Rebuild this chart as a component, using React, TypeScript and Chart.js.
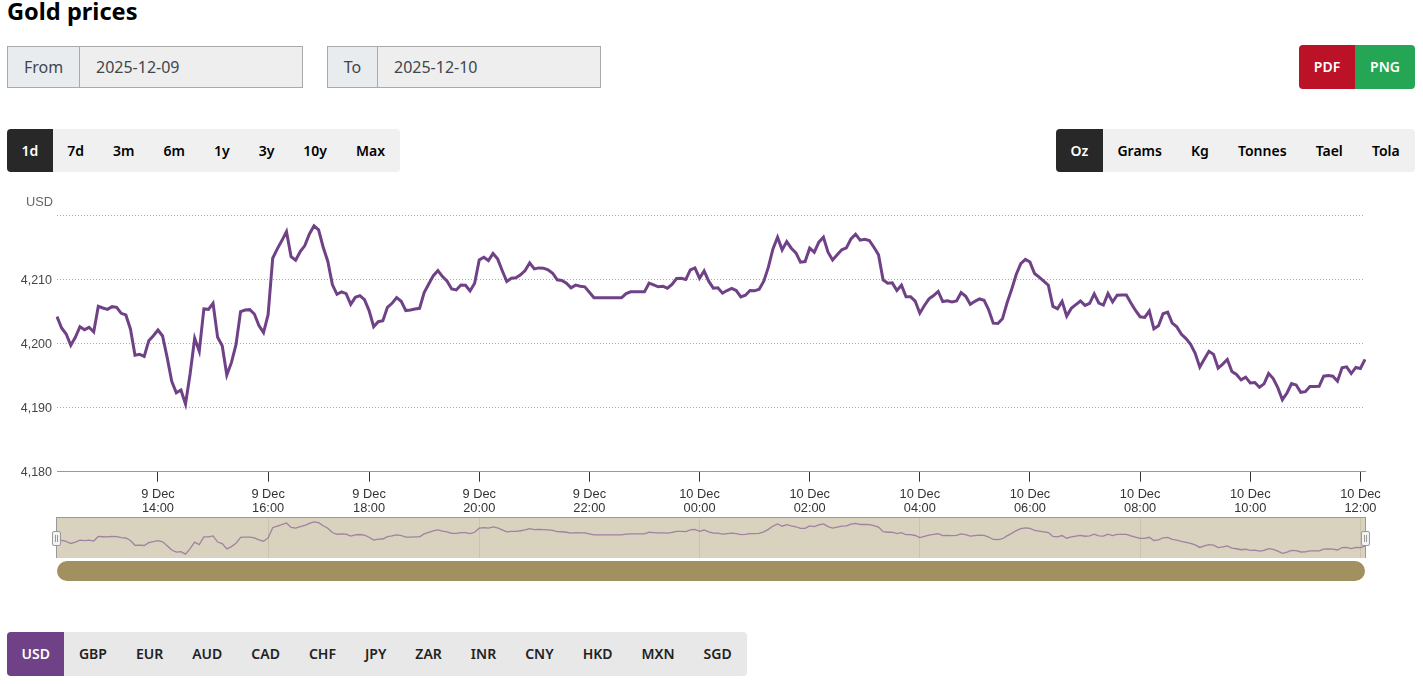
import { useEffect, useRef } from 'react'
import { Chart, registerables } from 'chart.js'

Chart.register(...registerables)

const fromDate = '2025-12-09'
const toDate = '2025-12-10'
const rangeButtons = ['1d', '7d', '3m', '6m', '1y', '3y', '10y', 'Max']
const unitButtons = ['Oz', 'Grams', 'Kg', 'Tonnes', 'Tael', 'Tola']
const currencyButtons = ['USD', 'GBP', 'EUR', 'AUD', 'CAD', 'CHF', 'JPY', 'ZAR', 'INR', 'CNY', 'HKD', 'MXN', 'SGD']
const yTicks = { min: 4180, max: 4220, step: 10 }

// 5 minute prices
const prices = [
  4204.25, 4202.47, 4201.53, 4199.76, 4201.01, 4202.68, 4202.21, 4202.58, 4201.85, 4205.86,
  4205.6, 4205.39, 4205.81, 4205.71, 4204.77, 4204.51, 4202.32, 4198.2, 4198.35, 4198.04,
  4200.49, 4201.27, 4202.16, 4201.22, 4197.88, 4194.13, 4192.35, 4192.77, 4190.58, 4195.27,
  4200.86, 4198.82, 4205.45, 4205.39, 4206.33, 4201.01, 4199.71, 4195.12, 4197.05, 4199.86,
  4205.03, 4205.29, 4205.34, 4204.66, 4202.84, 4201.74, 4204.56, 4213.38, 4214.84, 4216.14,
  4217.55, 4213.64, 4213.06, 4214.42, 4215.36, 4217.18, 4218.44, 4217.81, 4215.1, 4212.91,
  4209.25, 4207.74, 4208.11, 4207.85, 4206.18, 4207.27, 4207.53, 4206.91, 4205.19, 4202.68,
  4203.46, 4203.62, 4205.71, 4206.33, 4207.22, 4206.65, 4205.19, 4205.29, 4205.45, 4205.55,
  4208.0, 4209.36, 4210.66, 4211.44, 4210.51, 4209.78, 4208.58, 4208.42, 4209.2, 4209.15,
  4208.26, 4209.46, 4213.12, 4213.54, 4213.02, 4214.11, 4213.28, 4211.46, 4209.74, 4210.26,
  4210.31, 4210.78, 4211.46, 4212.66, 4211.72, 4211.87, 4211.82, 4211.56, 4211.04, 4210.0,
  4209.9, 4209.48, 4208.75, 4209.17, 4209.01, 4208.91, 4208.07, 4207.19, 4207.19, 4207.19,
  4207.19, 4207.19, 4207.19, 4207.19, 4207.86, 4208.12, 4208.12, 4208.12, 4208.12, 4209.48,
  4209.22, 4208.91, 4209.01, 4208.7, 4209.27, 4210.21, 4210.26, 4210.05, 4211.56, 4211.87,
  4210.26, 4211.41, 4209.79, 4208.7, 4208.75, 4207.92, 4208.33, 4208.65, 4208.33, 4207.34,
  4207.6, 4208.33, 4208.28, 4208.54, 4209.79, 4211.98, 4214.84, 4216.67, 4214.69, 4215.99,
  4214.95, 4214.22, 4212.76, 4212.86, 4214.95, 4214.32, 4215.89, 4216.67, 4214.32, 4213.12,
  4213.91, 4214.69, 4215.0, 4216.41, 4217.14, 4216.2, 4216.35, 4216.15, 4215.1, 4213.91,
  4210.0, 4209.48, 4209.53, 4208.33, 4209.17, 4207.34, 4207.34, 4206.67, 4204.79, 4205.99,
  4207.03, 4207.55, 4208.18, 4206.61, 4206.72, 4206.54, 4206.69, 4208.01, 4207.43, 4206.17,
  4206.64, 4207.01, 4206.8, 4205.33, 4203.23, 4203.18, 4203.91, 4206.38, 4208.48, 4210.84,
  4212.52, 4213.2, 4212.78, 4211.0, 4210.42, 4209.79, 4209.16, 4205.85, 4205.49, 4206.64,
  4204.33, 4205.54, 4206.12, 4206.69, 4206.01, 4206.33, 4207.8, 4206.38, 4206.06, 4207.85,
  4206.54, 4207.59, 4207.64, 4207.64, 4206.38, 4205.22, 4204.23, 4204.12, 4205.12, 4202.34,
  4202.81, 4204.7, 4204.96, 4203.23, 4202.65, 4201.5, 4200.81, 4199.92, 4198.5, 4196.35,
  4197.61, 4198.82, 4198.35, 4196.19, 4196.82, 4197.56, 4195.67, 4195.2, 4194.36, 4194.78,
  4193.88, 4193.94, 4193.2, 4193.73, 4195.35, 4194.57, 4193.15, 4191.26, 4192.31, 4193.78,
  4193.57, 4192.41, 4192.52, 4193.31, 4193.31, 4193.36, 4194.93, 4195.04, 4194.93, 4194.15,
  4196.25, 4196.4, 4195.35, 4196.3, 4196.14, 4197.56,
]

// the feed starts at 12:10 and has two 5 minute slots missing just after 16:00
const firstSlotMinutes = 12 * 60 + 10
const missingSlots = [16 * 60 + 25, 16 * 60 + 30]

function buildTimeLabels(count: number) {
  const labels: string[] = []
  let minutes = firstSlotMinutes
  while (labels.length < count) {
    if (!missingSlots.includes(minutes)) {
      const day = minutes < 24 * 60 ? '9 Dec' : '10 Dec'
      const hh = String(Math.floor(minutes / 60) % 24).padStart(2, '0')
      const mm = String(minutes % 60).padStart(2, '0')
      labels.push(`${day}|${hh}:${mm}`)
    }
    minutes += 5
  }
  return labels
}

const timeLabels = buildTimeLabels(prices.length)

function isHourTick(label: string, everyHours: number) {
  const [hh, mm] = label.split('|')[1].split(':')
  return mm === '00' && Number(hh) % everyHours === 0
}

const uiFont = '"Noto Sans", sans-serif'
const chartFont = '"Liberation Sans", Arial, sans-serif'

function PriceChart() {
  const canvasRef = useRef<HTMLCanvasElement | null>(null)

  useEffect(() => {
    const canvas = canvasRef.current
    if (!canvas) {
      return
    }

    const chart = new Chart(canvas, {
      type: 'line',
      data: {
        labels: timeLabels,
        datasets: [
          {
            data: prices,
            borderColor: '#6f4186',
            borderWidth: 3,
            pointRadius: 0,
            tension: 0,
          },
        ],
      },
      options: {
        responsive: false,
        animation: false,
        layout: { padding: { top: 25.9, right: 58, left: 0, bottom: 0 } },
        plugins: { legend: { display: false }, tooltip: { enabled: false } },
        scales: {
          x: {
            type: 'category',
            afterBuildTicks: (axis: any) => {
              axis.ticks = axis.ticks.filter((tick: any) => isHourTick(timeLabels[tick.value], 2))
            },
            afterFit: (axis: any) => {
              axis.height = 48.3
            },
            border: { color: '#999999', width: 1 },
            grid: {
              drawOnChartArea: false,
              tickLength: 10,
              tickColor: '#333333',
            },
            ticks: {
              autoSkip: false,
              maxRotation: 0,
              padding: 5,
              color: '#333333',
              font: { family: chartFont, size: 12.8, lineHeight: 1.16 },
              callback: (value: any) => timeLabels[value].split('|'),
            },
          },
          y: {
            min: yTicks.min,
            max: yTicks.max,
            afterFit: (axis: any) => {
              axis.width = 57
            },
            border: { display: false, dash: [1, 2] },
            grid: { color: '#aaaaaa', drawTicks: false },
            ticks: {
              stepSize: yTicks.step,
              padding: 5,
              labelOffset: 1,
              color: '#444444',
              font: { family: chartFont, size: 12.5 },
              callback: (value: any) => (value === yTicks.max ? '' : Number(value).toLocaleString('en-US')),
            },
          },
        },
      },
    })

    return () => {
      chart.destroy()
    }
  }, [])

  return (
    <canvas
      ref={canvasRef}
      width={1423}
      height={330}
      style={{ position: 'absolute', left: 0, top: 190, width: 1423, height: 330 }}
    />
  )
}

function NavigatorChart() {
  const canvasRef = useRef<HTMLCanvasElement | null>(null)

  useEffect(() => {
    const canvas = canvasRef.current
    if (!canvas) {
      return
    }

    const chart = new Chart(canvas, {
      type: 'line',
      data: {
        labels: timeLabels,
        datasets: [
          {
            data: prices,
            borderColor: 'rgba(111, 65, 134, 0.55)',
            borderWidth: 1.3,
            pointRadius: 0,
            tension: 0,
          },
        ],
      },
      options: {
        responsive: false,
        animation: false,
        plugins: { legend: { display: false }, tooltip: { enabled: false } },
        scales: {
          x: {
            type: 'category',
            afterBuildTicks: (axis: any) => {
              axis.ticks = axis.ticks.filter((tick: any) => isHourTick(timeLabels[tick.value], 4))
            },
            border: { display: false },
            grid: { color: 'rgba(90, 80, 50, 0.12)', drawTicks: false },
            ticks: { display: false, autoSkip: false },
          },
          y: { display: false, min: 4187.2, max: 4221.8 },
        },
      },
    })

    return () => {
      chart.destroy()
    }
  }, [])

  return (
    <canvas
      ref={canvasRef}
      width={1308}
      height={40}
      style={{ position: 'absolute', left: 0, top: 0, width: 1308, height: 40 }}
    />
  )
}

function DateField({ left, width, labelWidth, label, value }: { left: number; width: number; labelWidth: number; label: string; value: string }) {
  return (
    <div
      style={{
        position: 'absolute',
        left,
        top: 46,
        width,
        height: 42,
        boxSizing: 'border-box',
        border: '1px solid #aaaaaa',
        background: '#eeeeee',
        display: 'flex',
        fontSize: 16,
        lineHeight: '40px',
        color: '#40464c',
      }}
    >
      <div
        style={{
          width: labelWidth,
          boxSizing: 'border-box',
          textAlign: 'center',
          background: '#e9ecef',
          borderRight: '1px solid #aaaaaa',
        }}
      >
        {label}
      </div>
      <div style={{ paddingLeft: 16 }}>{value}</div>
    </div>
  )
}

function ButtonGroup({ items, left, width, top, height, padding, activeColor, fill, textColor }: { items: string[]; left: number; width: number; top: number; height: number; padding: number; activeColor: string; fill: string; textColor: string }) {
  return (
    <div
      style={{
        position: 'absolute',
        left,
        width,
        top,
        height,
        display: 'flex',
        background: fill,
        borderRadius: 4,
        overflow: 'hidden',
      }}
    >
      {items.map((item, index) => (
        <div
          key={item}
          style={{
            padding: `0 ${padding}px`,
            lineHeight: `${height}px`,
            fontSize: 14,
            fontWeight: 600,
            color: index === 0 ? '#ffffff' : textColor,
            background: index === 0 ? activeColor : 'transparent',
          }}
        >
          {item}
        </div>
      ))}
    </div>
  )
}

const handleStyle = {
  position: 'absolute',
  top: 13,
  width: 9,
  height: 15,
  boxSizing: 'border-box',
  background: '#f2f2f2',
  border: '1px solid #999999',
  borderRadius: 2,
  display: 'flex',
  justifyContent: 'center',
  gap: 1,
  padding: '3px 0',
} as const

const gripStyle = { width: 1, background: '#999999' }

export default function App() {
  return (
    <div style={{ position: 'absolute', left: 0, top: 0, width: 1423, height: 684, overflow: 'hidden', background: '#ffffff', fontFamily: uiFont }}>
      <div style={{ position: 'absolute', left: 7, top: -1, fontSize: 23.6, lineHeight: '24px', fontWeight: 700, color: '#000000' }}>Gold prices</div>

      <DateField left={7} width={296} labelWidth={72} label="From" value={fromDate} />
      <DateField left={327} width={274} labelWidth={50} label="To" value={toDate} />

      <div style={{ position: 'absolute', left: 1299, top: 45, height: 44, display: 'flex', borderRadius: 4, overflow: 'hidden', fontSize: 14, fontWeight: 600, lineHeight: '44px', color: '#ffffff' }}>
        <div style={{ width: 56, textAlign: 'center', background: '#bb1228' }}>PDF</div>
        <div style={{ width: 60, textAlign: 'center', background: '#24a655' }}>PNG</div>
      </div>

      <ButtonGroup items={rangeButtons} left={7} width={393} top={129} height={43} padding={14.5} activeColor="#282828" fill="#f0f0f0" textColor="#000000" />
      <ButtonGroup items={unitButtons} left={1056} width={359} top={129} height={43} padding={14.55} activeColor="#282828" fill="#f0f0f0" textColor="#000000" />

      <PriceChart />
      <div style={{ position: 'absolute', right: 1370, top: 194, fontFamily: chartFont, fontSize: 12.8, lineHeight: '15px', color: '#666666' }}>USD</div>

      <div style={{ position: 'absolute', left: 56, top: 517, width: 1310, height: 41, boxSizing: 'border-box', borderTop: '1px solid #999999', borderLeft: '1px solid #999999', borderRight: '1px solid #999999', background: '#d9d2bf' }}>
        <NavigatorChart />
        <div style={{ ...handleStyle, left: -5 }}>
          <div style={gripStyle} />
          <div style={gripStyle} />
        </div>
        <div style={{ ...handleStyle, right: -5 }}>
          <div style={gripStyle} />
          <div style={gripStyle} />
        </div>
      </div>
      <div style={{ position: 'absolute', left: 57, top: 561, width: 1308, height: 20, borderRadius: 10, background: '#a39061' }} />

      <ButtonGroup items={currencyButtons} left={7} width={740} top={632} height={44} padding={14.5} activeColor="#6f4186" fill="#e8e8e8" textColor="#222222" />
    </div>
  )
}
